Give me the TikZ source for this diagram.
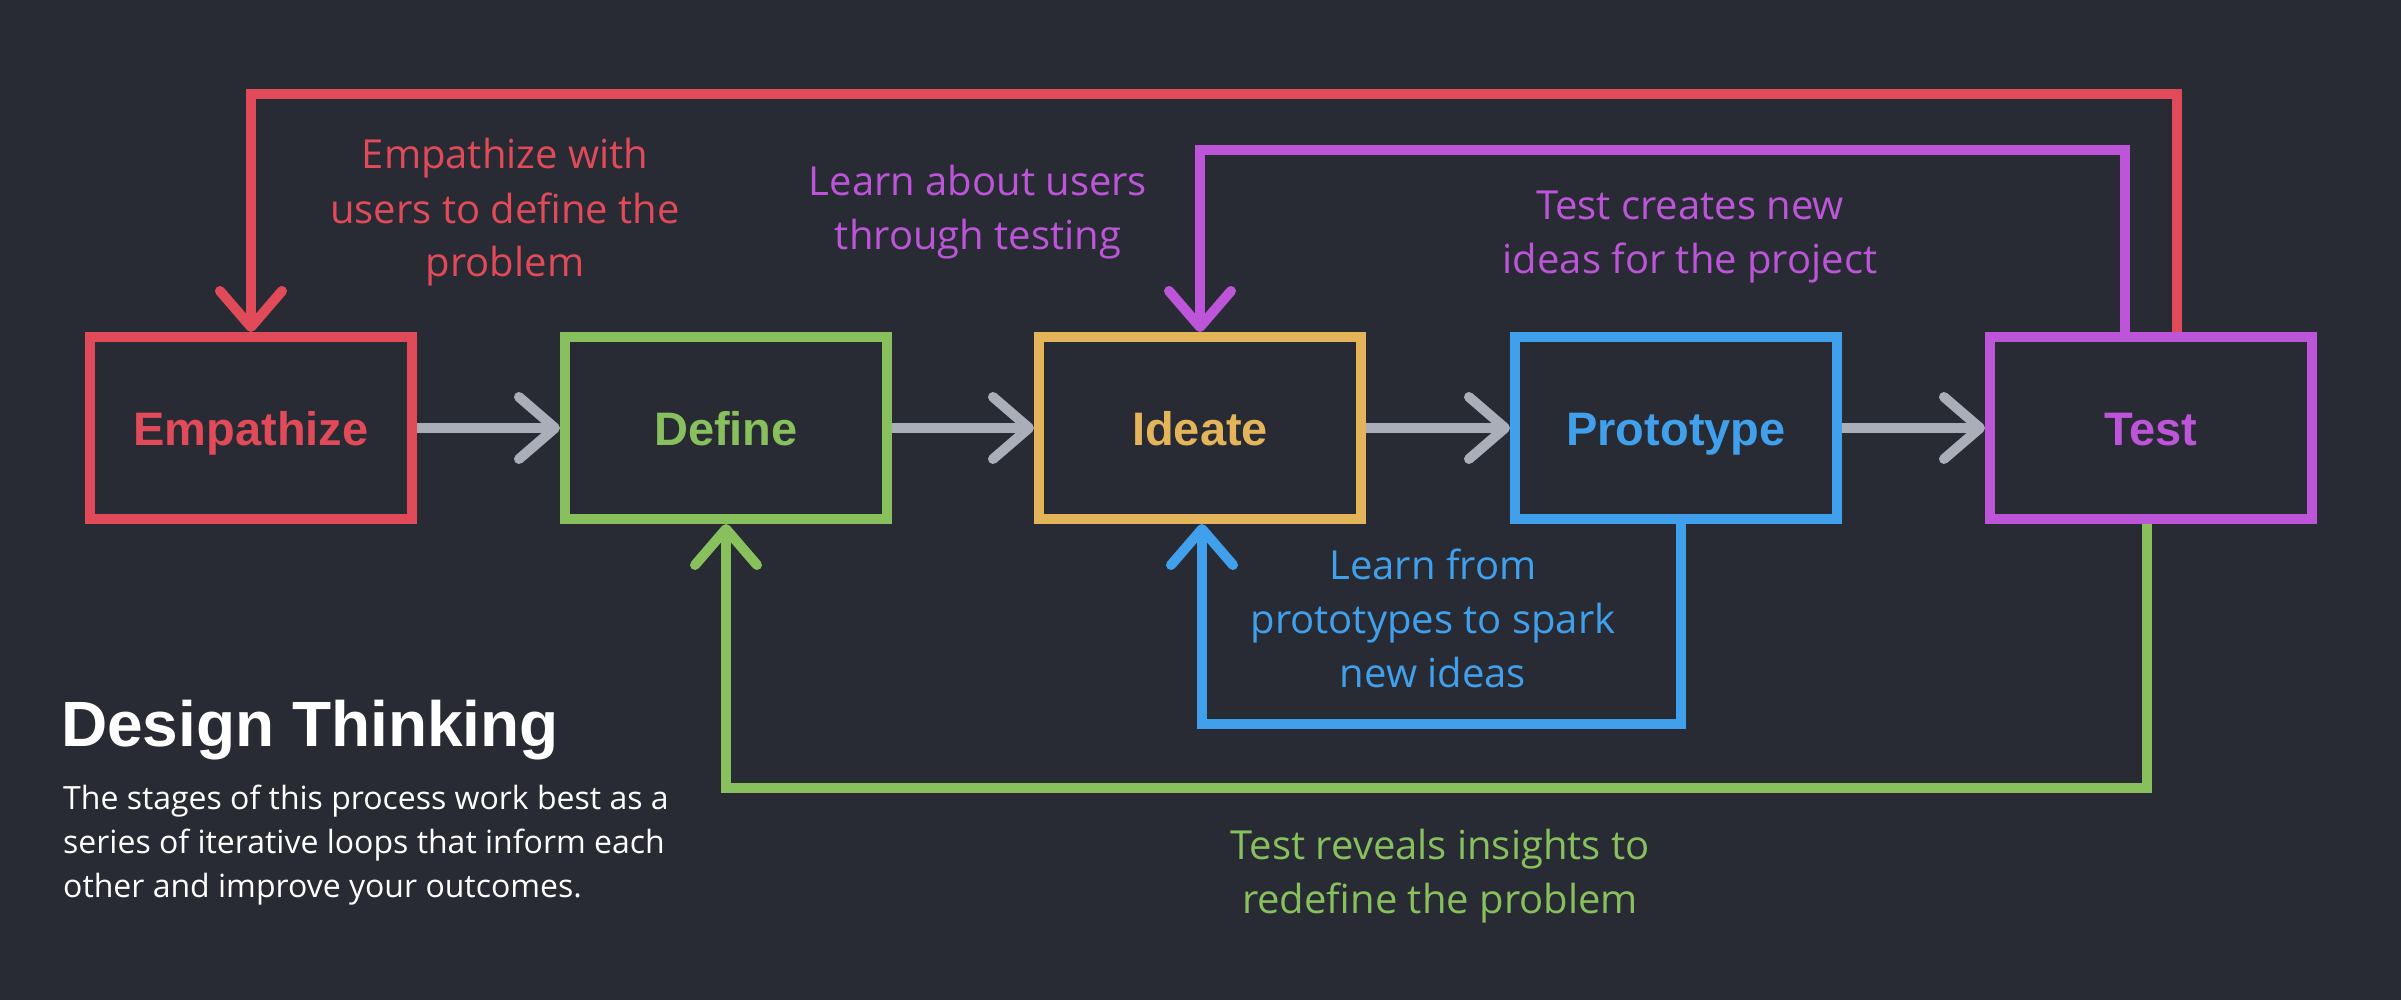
\documentclass[tikz,border=0pt]{standalone}
\usepackage{fontspec}
\usetikzlibrary{arrows.meta}
\newfontfamily\lblfont{Open Sans}
\newfontfamily\ttlfont{Liberation Sans}
\definecolor{bgc}{HTML}{282B34}
\definecolor{redc}{HTML}{E04A59}
\definecolor{greenc}{HTML}{88C05D}
\definecolor{yellowc}{HTML}{E4B45A}
\definecolor{bluec}{HTML}{41A0EC}
\definecolor{purplec}{HTML}{BD55D9}
\definecolor{grayc}{HTML}{A9AEB9}
\begin{document}
\begin{tikzpicture}[x=1pt,y=-1pt,
  stage/.style={draw, line width=10pt, minimum width=322pt, minimum height=182pt,
    inner sep=0pt, text height=34pt, text depth=0pt,
    font=\ttlfont\bfseries\fontsize{47}{56}\selectfont},
  chev/.style={-{Straight Barb[length=36pt,width=62pt,round]}},
  flow/.style={draw=grayc, line width=10pt, chev},
  loopline/.style={line width=10pt, chev},
  lbl/.style={align=center, anchor=base, inner sep=0pt,
    font=\lblfont\fontsize{40}{54}\selectfont}]
\fill[bgc] (0,0) rectangle (2401,1000);
\useasboundingbox (0,0) rectangle (2401,1000);

\node[stage, draw=redc, text=redc] (emp) at (251,428) {Empathize};
\node[stage, draw=greenc, text=greenc] (def) at (726,428) {Define};
\node[stage, draw=yellowc, text=yellowc] (ide) at (1200,428) {Ideate};
\node[stage, draw=bluec, text=bluec] (pro) at (1676,428) {Prototype};
\node[stage, draw=purplec, text=purplec] (tst) at (2151,428) {Test};

\draw[flow] (emp.east) -- (def.west);
\draw[flow] (def.east) -- (ide.west);
\draw[flow] (ide.east) -- (pro.west);
\draw[flow] (pro.east) -- (tst.west);

\coordinate (rS) at ([xshift=26pt]tst.north);
\draw[loopline, draw=redc] (rS) -- (rS |- 0,94) -| (emp.north);
\coordinate (pS) at ([xshift=-26pt]tst.north);
\draw[loopline, draw=purplec] (pS) -- (pS |- 0,150) -| (ide.north);
\coordinate (gS) at ([xshift=-4pt]tst.south);
\draw[loopline, draw=greenc] (gS) -- (gS |- 0,788) -| (def.south);
\coordinate (bS) at ([xshift=5pt]pro.south);
\coordinate (bE) at ([xshift=2pt]ide.south);
\draw[loopline, draw=bluec] (bS) -- (bS |- 0,724) -| (bE);

\node[lbl, text=redc] (lr) at (505,277) {Empathize with\\users to define the\\problem};
\node[lbl, text=purplec] (lp1) at (978,250) {Learn about users\\through testing};
\node[lbl, text=purplec] (lp2) at (1690,274) {Test creates new\\ideas for the project};
\node[lbl, text=bluec] (lb) at (1433,687) {Learn from\\prototypes to spark\\new ideas};
\node[lbl, text=greenc] (lg) at (1440,913) {Test reveals insights to\\redefine the problem};

\node[anchor=base west, inner sep=0pt, text=white,
  font=\ttlfont\bfseries\fontsize{64}{70}\selectfont] (ttl) at (61,746) {Design Thinking};
\node[anchor=base west, align=left, inner sep=0pt, text=white,
  font=\lblfont\fontsize{32}{44}\selectfont] (par) at (63,897)
  {The stages of this process work best as a\\series of iterative loops that inform each\\other and improve your outcomes.};
\end{tikzpicture}
\end{document}
